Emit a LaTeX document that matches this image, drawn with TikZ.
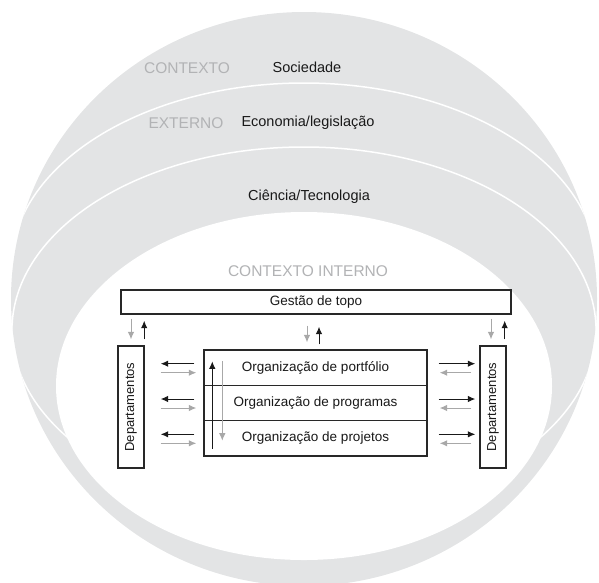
\documentclass[tikz,border=0pt]{standalone}
\usepackage{fontspec}
\setmainfont{Liberation Sans}
\usetikzlibrary{arrows.meta}
\definecolor{sphere}{RGB}{227,228,229}
\definecolor{ink}{RGB}{25,25,25}
\definecolor{boxline}{RGB}{40,40,40}
\definecolor{soft}{RGB}{178,179,181}
\definecolor{softarrow}{RGB}{168,168,168}
\begin{document}
\begin{tikzpicture}[x=1pt,y=-1pt,
  outerlabel/.style={text=ink,inner sep=0pt,font=\fontsize{14.5}{17}\selectfont},
  zonelabel/.style={text=soft,inner sep=0pt,font=\fontsize{15.5}{18}\selectfont},
  unitbox/.style={draw=boxline,line width=1.4pt,fill=white,inner sep=0pt,
    text=ink,font=\fontsize{13.5}{16}\selectfont},
  blk/.style={draw=ink,line width=1pt,-{Latex[length=7.5pt,width=6.5pt]}},
  gry/.style={draw=softarrow,line width=1pt,-{Latex[length=7.5pt,width=6.5pt]}},
  band/.style={draw=white,line width=1.5pt}]
\useasboundingbox (0,0) rectangle (599,582);

% nested context spheres
\fill[sphere] (304,299) ellipse [x radius=293, y radius=287];
\begin{scope}
  \clip (304,299) ellipse [x radius=293, y radius=287];
  \draw[band] (11,268) arc [start angle=180, end angle=360, x radius=293, y radius=185];
  \draw[band] (304,330) ellipse [x radius=292, y radius=183];
\end{scope}
\fill[white] (304,386) ellipse [x radius=248, y radius=174];

% external context labels
\node[zonelabel] (ctx) at (187,68) {CONTEXTO};
\node[outerlabel] (soc) at (307,67) {Sociedade};
\node[zonelabel] (ext) at (186,123) {EXTERNO};
\node[outerlabel] (eco) at (308,123) {Economia/legislação};
\node[outerlabel] (cie) at (309,197) {Ciência/Tecnologia};

% internal context
\node[zonelabel] (intl) at (308,271) {CONTEXTO INTERNO};
\node[unitbox,minimum width=390pt,minimum height=24pt] (top) at (316,302) {Gestão de topo};
\node[unitbox,minimum width=26pt,minimum height=122pt] (deptL) at (131,407)
  {\rotatebox{90}{\fontsize{13}{15}\selectfont Departamentos}};
\node[unitbox,minimum width=26pt,minimum height=122pt] (deptR) at (493,407)
  {\rotatebox{90}{\fontsize{13}{15}\selectfont Departamentos}};
\node[unitbox,minimum width=223pt,minimum height=35.3pt] (port) at (315.5,367.7) {Organização de portfólio};
\node[unitbox,minimum width=223pt,minimum height=35.3pt] (prog) at (315.5,403) {Organização de programas};
\node[unitbox,minimum width=223pt,minimum height=35.3pt] (proj) at (315.5,438.3) {Organização de projetos};

% top management <-> departments and organisation stack
\draw[gry,shorten <=4pt,shorten >=6pt] (top.south -| deptL.center) -- (deptL.north);
\draw[blk,shorten <=6pt,shorten >=6pt] ([xshift=-0.5pt]deptL.north east) -- ([xshift=-0.5pt]top.south -| deptL.east);
\draw[gry,shorten <=4pt,shorten >=6pt] ([xshift=-2pt]top.south -| deptR.center) -- ([xshift=-2pt]deptR.north);
\draw[blk,shorten <=6pt,shorten >=6pt] ([xshift=-2pt]deptR.north east) -- ([xshift=-2pt]top.south -| deptR.east);
\draw[gry,shorten <=11pt,shorten >=7pt] ([xshift=-8.5pt]top.south -| port.north) -- ([xshift=-8.5pt]port.north);
\draw[blk,shorten <=5pt,shorten >=12pt] ([xshift=3.5pt]port.north) -- ([xshift=3.5pt]top.south -| port.north);

% departments <-> organisation levels
\foreach \r in {port,prog,proj}{
  \draw[blk,shorten <=9pt,shorten >=16pt] ([yshift=4pt]\r.west) -- ([yshift=4pt]\r.west -| deptL.east);
  \draw[gry,shorten <=16pt,shorten >=7pt] ([yshift=-5pt]\r.west -| deptL.east) -- ([yshift=-5pt]\r.west);
  \draw[blk,shorten <=11pt,shorten >=4pt] ([yshift=4pt]\r.east) -- ([yshift=4pt]\r.east -| deptR.west);
  \draw[gry,shorten <=8pt,shorten >=12pt] ([yshift=-5pt]\r.east -| deptR.west) -- ([yshift=-5pt]\r.east);
}

% flows across the organisation levels
\draw[blk,shorten <=8pt,shorten >=12pt] ([xshift=9pt]proj.south west) -- ([xshift=9pt]port.north west);
\draw[gry,shorten <=12pt,shorten >=16pt] ([xshift=19pt]port.north west) -- ([xshift=19pt]proj.south west);
\end{tikzpicture}
\end{document}
